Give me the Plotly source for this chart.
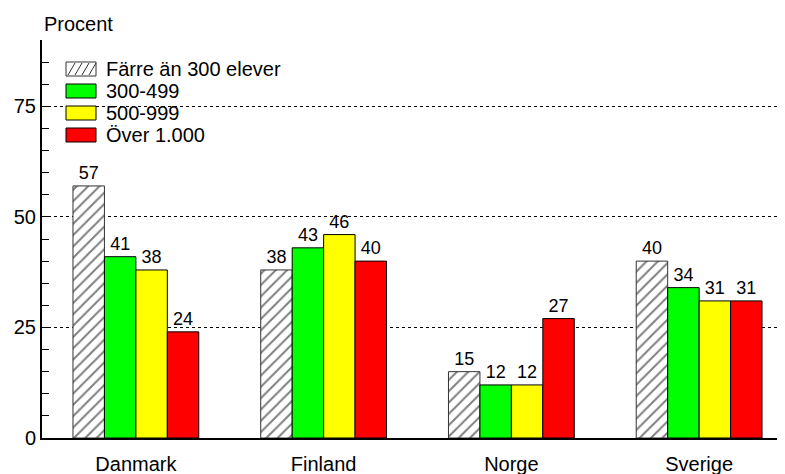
import plotly.graph_objects as go

# Data
lander = ["Danmark", "Finland", "Norge", "Sverige"]
farre_an_300 = [57, 38, 15, 40]
elever_300_499 = [41, 43, 12, 34]
elever_500_999 = [38, 46, 12, 31]
over_1000 = [24, 40, 27, 31]

serier = [
    ("Färre än 300 elever", farre_an_300, "white", "#333333", "/"),
    ("300-499", elever_300_499, "#00ff00", "black", ""),
    ("500-999", elever_500_999, "#ffff00", "black", ""),
    ("Över 1.000", over_1000, "#ff0000", "black", ""),
]

# Figur-mått (sidans body har 8 px marginal; högerkanten klipps som i förlagan)
W, H = 785, 466
ML, MR, MT, MB = 34, 0, 32, 36
PW, PH = W - ML - MR, H - MT - MB


def px_x(x):
    """pixel (i fönstret) -> paper x"""
    return (x - 8 - ML) / PW


def px_y(y):
    """pixel (i fönstret) -> paper y"""
    return 1 - (y - 8 - MT) / PH


fig = go.Figure()

for namn, varden, farg, kant, monster in serier:
    fig.add_trace(go.Bar(
        x=lander,
        y=varden,
        name=namn,
        text=[str(v) for v in varden],
        textposition="outside",
        cliponaxis=False,
        textfont=dict(size=18, color="black"),
        marker=dict(
            color=farg,
            line=dict(color=kant, width=1),
            pattern=dict(shape=monster, fgcolor="black", bgcolor="white",
                         size=8, solidity=0.25) if monster else None,
        ),
        showlegend=False,
    ))

# Egen förklaring (legend) med rutor och text
shapes = []
annotations = []
for i, (namn, varden, farg, kant, monster) in enumerate(serier):
    y0 = 62 + i * 22
    shapes.append(dict(
        type="rect", xref="paper", yref="paper",
        x0=px_x(66), x1=px_x(96), y0=px_y(y0), y1=px_y(y0 + 14),
        fillcolor=farg, line=dict(color="black" if not monster else "#333333", width=1),
        layer="above",
    ))
    if monster:
        for k in range(4):
            xs = 68 + k * 7
            shapes.append(dict(
                type="line", xref="paper", yref="paper",
                x0=px_x(xs), x1=px_x(xs + 7), y0=px_y(y0 + 13), y1=px_y(y0 + 1),
                line=dict(color="#333333", width=1), layer="above",
            ))
    annotations.append(dict(
        text=namn, xref="paper", yref="paper",
        x=px_x(104), y=px_y(y0 + 7), xanchor="left", yanchor="middle",
        showarrow=False, font=dict(size=20),
    ))

annotations.append(dict(
    text="Procent", x=px_x(42), y=1, xref="paper", yref="paper",
    xanchor="left", yanchor="bottom", yshift=3,
    showarrow=False, font=dict(size=20),
))

fig.update_layout(
    width=W, height=H,
    margin=dict(l=ML, r=MR, t=MT, b=MB, autoexpand=False),
    plot_bgcolor="white",
    paper_bgcolor="white",
    font=dict(family="Liberation Sans, Arial, sans-serif", size=20, color="black"),
    barmode="group",
    bargap=0.33,
    bargroupgap=0,
    showlegend=False,
    shapes=shapes,
    annotations=annotations,
)

fig.update_yaxes(
    range=[0, 90],
    tickvals=[0, 25, 50, 75],
    automargin=False,
    showgrid=True,
    gridcolor="black",
    griddash="dot",
    gridwidth=1,
    showline=True,
    linecolor="black",
    linewidth=2,
    ticks="inside",
    ticklen=7,
    tickcolor="black",
    minor=dict(dtick=5, ticks="inside", ticklen=7, tickcolor="black", showgrid=False),
    zeroline=False,
    tickfont=dict(size=20),
)

fig.update_xaxes(
    automargin=False,
    showline=True,
    linecolor="black",
    linewidth=2,
    ticks="",
    showgrid=False,
    tickfont=dict(size=20),
    ticklabelstandoff=7,
)

fig.write_html("out.html")
